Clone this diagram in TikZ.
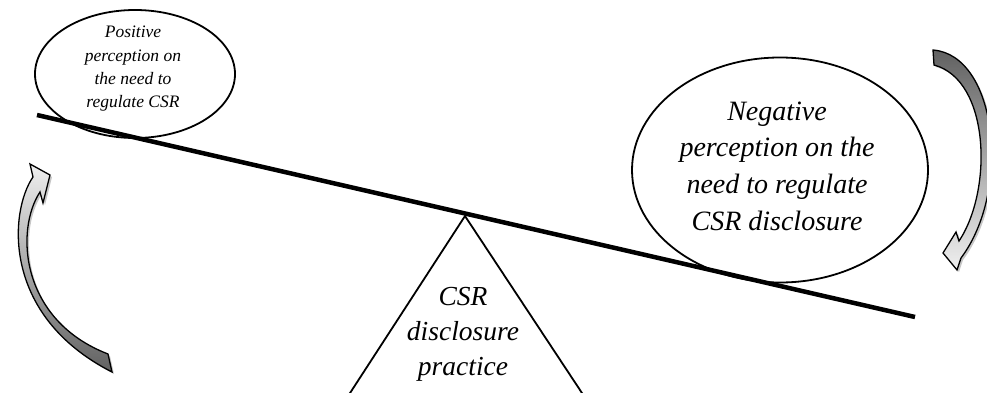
\documentclass[tikz,border=0pt]{standalone}
\usepackage{fontspec}
\setmainfont{Liberation Serif}
\usetikzlibrary{shapes.geometric}
\tikzset{
  bubble/.style={draw, ellipse, line width=1.8pt, fill=white, inner sep=0pt},
  small txt/.style={align=center, font=\fontsize{17.5}{23.3}\selectfont\itshape},
  big txt/.style={align=center, font=\fontsize{28}{36.7}\selectfont\itshape},
  tri txt/.style={align=center, font=\fontsize{27.5}{35}\selectfont\itshape},
  arrowline/.style={draw=black, line width=1.3pt, line join=miter},
  shadowfill/.style={fill=black!22, draw=none},
  larrow/.style={insert path={(30,164) -- (50,175) -- (43,203) -- (40,192)
     .. controls (15,230) and (20,320) .. (108,354) -- (112,372)
     .. controls (0,315) and (10,210) .. (33,177) -- cycle}},
  rarrow/.style={insert path={(933,50) .. controls (997,55) and (1012,190) .. (961,258)
     -- (957,270) -- (943,253) -- (956,232) -- (959,241)
     .. controls (993,190) and (990,80) .. (934,65) -- cycle}}
}
\begin{document}
\begin{tikzpicture}[x=1pt, y=-1pt]
\useasboundingbox (0,0) rectangle (987,393);
\clip (0,0) rectangle (987,393);
% ellipses
\node[bubble, minimum width=200pt, minimum height=128pt] (posE) at (135,74) {};
\node[small txt] (posT) at (133,69) {Positive\\perception on\\the need to\\regulate CSR};
\node[bubble, minimum width=296pt, minimum height=225pt] (negE) at (780,170) {};
\node[big txt] (negT) at (777,166) {Negative\\perception on the\\need to regulate\\CSR disclosure};
% fulcrum
\coordinate (apex) at (465,216);
\coordinate (triL) at (345.5,400);
\coordinate (triR) at (586.6,400);
\draw[line width=1.8pt, line join=miter] (triL) -- (apex) -- (triR);
\node[tri txt] (triT) at (463,334) {CSR\\disclosure\\practice};
% beam
\coordinate (beamL) at (37,115);
\coordinate (beamR) at (915,317);
\draw[line width=4.5pt] (beamL) -- (beamR);
% curved arrows
\path[shadowfill, shift={(2,2)}] [larrow];
\path[arrowline, top color=black!6, bottom color=black!62] [larrow];
\path[shadowfill, shift={(2,2)}] [rarrow];
\path[arrowline, top color=black!62, bottom color=black!6] [rarrow];
\end{tikzpicture}
\end{document}
